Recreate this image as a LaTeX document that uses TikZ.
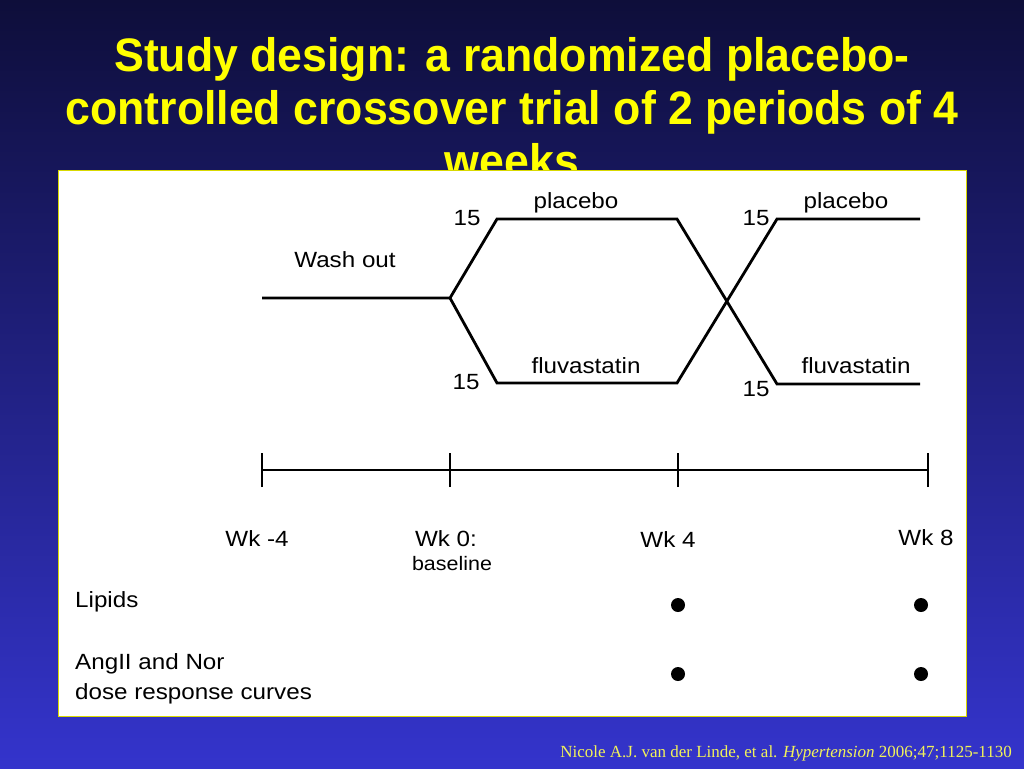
\documentclass[tikz,border=0pt]{standalone}
\usepackage{fontspec}
\setmainfont{Liberation Sans}[FakeStretch=1.1]
\newfontfamily\titlefont{Liberation Sans}[FakeStretch=0.95]
\newfontfamily\citefont{Liberation Serif}
\usetikzlibrary{positioning}
\definecolor{slidetop}{HTML}{0E0E3A}
\definecolor{slidebot}{HTML}{3434CC}
\definecolor{titleyel}{HTML}{FFFF00}
\definecolor{citeyel}{HTML}{F2F25A}
\definecolor{ink}{HTML}{000000}

\begin{document}
\begin{tikzpicture}[x=1pt, y=-1pt,
  title/.style = {font=\titlefont\fontsize{47}{53}\selectfont\bfseries, text=titleyel,
                  align=center, inner sep=0pt},
  panel/.style = {fill=white, draw=titleyel!85!black, line width=0.8pt},
  lbl/.style   = {font=\fontsize{22}{30}\selectfont, text=ink, inner sep=0pt},
  small/.style = {font=\fontsize{19.5}{23}\selectfont, text=ink, inner sep=0pt},
  arm/.style   = {draw=ink, line width=2.8pt, line join=miter},
  tickmark/.style = {draw=ink, line width=2.8pt},
  dot/.style   = {circle, fill=ink, inner sep=0pt, minimum size=14pt},
  cite/.style  = {font=\citefont\fontsize{17}{20}\selectfont, text=citeyel, inner sep=0pt},
]

% slide background
\shade[top color=slidetop, bottom color=slidebot] (0,0) rectangle (1024,768);
\useasboundingbox (0,0) rectangle (1024,768);

\node[title, anchor=north] (ttl) at (512,37)
  {Study design: a randomized placebo-\\
   controlled crossover trial of 2 periods of 4\\ weeks};

\draw[panel] (58,170) rectangle (966,716);

% arms of the trial
\coordinate (wash) at (262,298);
\coordinate (split) at (450,298);
\coordinate (pla1) at (497,219);
\coordinate (pla1e) at (677,219);
\coordinate (flu1) at (497,383);
\coordinate (flu1e) at (677,383);
\coordinate (pla2) at (777,219);
\coordinate (pla2e) at (920,219);
\coordinate (flu2) at (777,384);
\coordinate (flu2e) at (920,384);

\draw[arm] (wash) -- (split) -- (pla1) -- (pla1e) -- (flu2) -- (flu2e);
\draw[arm] (split) -- (flu1) -- (flu1e) -- (pla2) -- (pla2e);

\node[lbl] (washlbl) at (345,260) {Wash out};
\node[lbl] (n1) at (467,218) {15};
\node[lbl] (n2) at (466,382) {15};
\node[lbl] (n3) at (756,218) {15};
\node[lbl] (n4) at (756,389) {15};
\node[lbl] (plalbl1) at (576,203) {placebo};
\node[lbl] (flulbl1) at (586,366) {fluvastatin};
\node[lbl] (plalbl2) at (846,203) {placebo};
\node[lbl] (flulbl2) at (856,366) {fluvastatin};

% time line
\coordinate (t0) at (262,470);
\coordinate (t1) at (450,470);
\coordinate (t2) at (678,470);
\coordinate (t3) at (928,470);
\draw[tickmark] (t0) -- (t3);
\foreach \t in {t0,t1,t2,t3}
  \draw[tickmark] ([yshift=-17pt]\t) -- ([yshift=17pt]\t);

\node[lbl] (wkm4) at (257,539) {Wk -4};
\node[lbl] (wk0) at (446,539) {Wk 0:};
\node[small] (base) at (452,564) {baseline};
\node[lbl] (wk4) at (668,540) {Wk 4};
\node[lbl] (wk8) at (926,538) {Wk 8};

% measurements
\node[lbl, anchor=west] (lip) at (75,602) {Lipids};
\node[lbl, anchor=west, align=left] (ang) at (75,679)
  {AngII and Nor\\dose response curves};
\node[dot] (d1) at (678,605) {};
\node[dot] (d2) at (921,605) {};
\node[dot] (d3) at (678,674) {};
\node[dot] (d4) at (921,674) {};

\node[cite, anchor=base east] (ref) at (1012,757)
  {Nicole A.J. van der Linde, et al. \textit{Hypertension} 2006;47;1125-1130};

\end{tikzpicture}
\end{document}
